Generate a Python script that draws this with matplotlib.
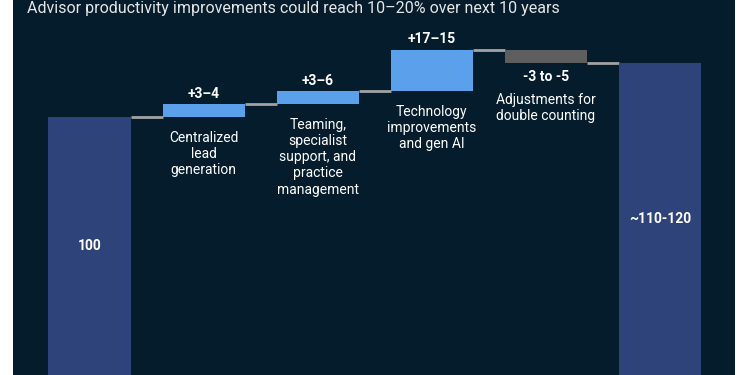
import matplotlib.pyplot as plt

# Données du graphique en cascade
etapes = ["Start", "Centralized\nlead\ngeneration",
          "Teaming,\nspecialist\nsupport, and\npractice\nmanagement",
          "Technology\nimprovements\nand gen AI",
          "Adjustments for\ndouble counting", "End"]
valeur_depart = 100
variations = [5, 5, 16, -5]
etiquettes_var = ["+3\u20134", "+3\u20136", "+17\u201315", "-3 to -5"]
etiquettes_tot = ["100", "~110-120"]
titre = "Advisor productivity improvements could reach 10\u201320% over next 10 years"

# Couleurs
fond = "#051c2c"
bleu_total = "#2e4379"
bleu_clair = "#5aa0ea"
gris_barre = "#5e5e5e"
gris_ligne = "#a3a3a3"

plt.rcParams['font.family'] = ['Roboto', 'DejaVu Sans']

fig = plt.figure(figsize=(7.5, 3.75), dpi=100)
fig.patch.set_facecolor("white")
ax = fig.add_axes([0.017, 0, 0.963, 1])
ax.set_facecolor(fond)
ax.set_xlim(-0.673, 5.657)
ax.set_ylim(0, 145.3)
for s in ax.spines.values():
    s.set_visible(False)
ax.set_xticks([])
ax.set_yticks([])

larg = 0.72

# Barres totales
valeur_fin = valeur_depart + sum(variations)
ax.bar(0, valeur_depart, width=larg, color=bleu_total, zorder=2)
ax.bar(5, valeur_fin, width=larg, color=bleu_total, zorder=2)

# Barres intermédiaires
niveau = valeur_depart
niveaux = [niveau]
for i, v in enumerate(variations):
    bas = niveau if v > 0 else niveau + v
    couleur = bleu_clair if v > 0 else gris_barre
    ax.bar(i + 1, abs(v), bottom=bas, width=larg, color=couleur, zorder=2)
    niveau += v
    niveaux.append(niveau)

# Lignes de liaison
for i, n in enumerate(niveaux):
    ax.plot([i + larg / 2, i + 1 - larg / 2], [n, n], color=gris_ligne, lw=2, zorder=1,
            solid_capstyle='butt')

# Étiquettes des variations et descriptions
niveau = valeur_depart
for i, v in enumerate(variations):
    haut = max(niveau, niveau + v)
    bas = min(niveau, niveau + v)
    if v > 0:
        ax.annotate(etiquettes_var[i], (i + 1, haut), xytext=(0, 7.5), textcoords='offset points',
                    ha='center', va='center', color='white', fontsize=10, fontweight='bold')
        ax.annotate(etapes[i + 1], (i + 1, bas), xytext=(0, -10), textcoords='offset points',
                    ha='center', va='top', color='white', fontsize=10, linespacing=1.2)
    else:
        ax.annotate(etiquettes_var[i], (i + 1, bas), xytext=(0, -10), textcoords='offset points',
                    ha='center', va='center', color='white', fontsize=10, fontweight='bold')
        ax.annotate(etapes[i + 1], (i + 1, bas), xytext=(0, -21.5), textcoords='offset points',
                    ha='center', va='top', color='white', fontsize=10, linespacing=1.2)
    niveau += v

# Étiquettes des totaux
ax.text(0, valeur_depart / 2, etiquettes_tot[0], ha='center', va='center', color='white',
        fontsize=10, fontweight='bold')
ax.text(5, valeur_fin / 2, etiquettes_tot[1], ha='center', va='center', color='white',
        fontsize=10, fontweight='bold')

# Titre
fig.text(0.036, 0.997, titre, ha='left', va='top', color='#e6e6e6', fontsize=11.5)

fig.savefig("out.png", dpi=100, facecolor=fig.get_facecolor())
